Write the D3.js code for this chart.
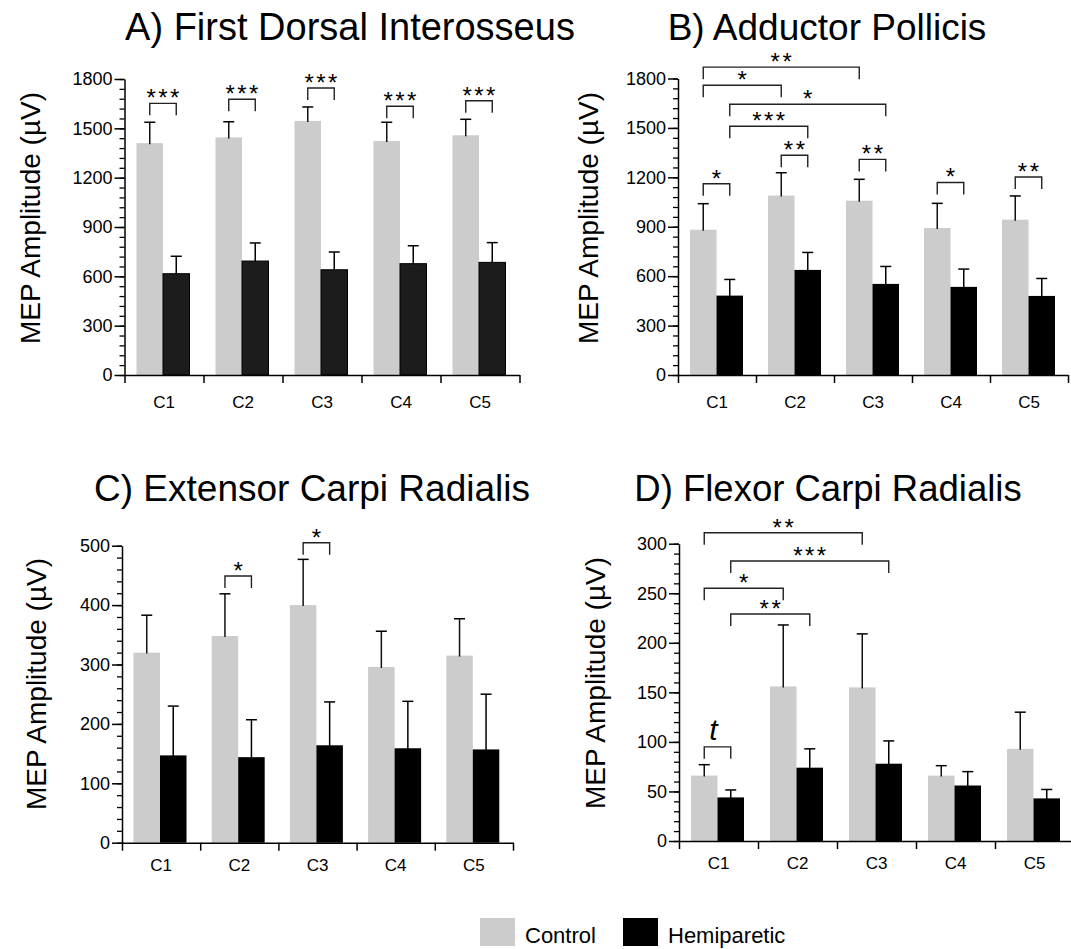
<!DOCTYPE html>
<html>
<head>
<meta charset="utf-8">
<script src="https://cdn.jsdelivr.net/npm/d3@7"></script>
<style>
  body { margin: 0; background: #fff; }
  svg { display: block; font-family: "Liberation Sans", Arial, Helvetica, sans-serif; }
</style>
</head>
<body>
<svg width="1071" height="949"></svg>
<script>
// categories + series
const categories = ["C1", "C2", "C3", "C4", "C5"];
const seriesNames = ["Control", "Hemiparetic"];
const seriesColors = ["#cccccc", "#000000"];

// A) First Dorsal Interosseus
const fdiControl = [1410, 1445, 1545, 1423, 1458];
const fdiControlErr = [127, 95, 85, 114, 97];
const fdiHemi = [616, 693, 640, 677, 685];
const fdiHemiErr = [106, 110, 108, 109, 120];
const fdiTicks = [0, 300, 600, 900, 1200, 1500, 1800];
// [cat, series, cat, series, height (µV), label]
const fdiSig = [
  ["C1", 0, "C1", 1, 1652, "***"],
  ["C2", 0, "C2", 1, 1677, "***"],
  ["C3", 0, "C3", 1, 1745, "***"],
  ["C4", 0, "C4", 1, 1634, "***"],
  ["C5", 0, "C5", 1, 1668, "***"]
];

// B) Adductor Pollicis
const apControl = [882, 1089, 1058, 892, 943];
const apControlErr = [158, 139, 130, 150, 144];
const apHemi = [482, 638, 553, 535, 480];
const apHemiErr = [98, 106, 106, 108, 106];
const apTicks = [0, 300, 600, 900, 1200, 1500, 1800];
const apSig = [
  ["C1", 0, "C3", 0, 1869, "**"],
  ["C1", 0, "C2", 0, 1759, "*"],
  ["C1", 1, "C3", 1, 1644, "*"],
  ["C1", 1, "C2", 1, 1510, "***"],
  ["C1", 0, "C1", 1, 1161, "*"],
  ["C2", 0, "C2", 1, 1334, "**"],
  ["C3", 0, "C3", 1, 1309, "**"],
  ["C4", 0, "C4", 1, 1169, "*"],
  ["C5", 0, "C5", 1, 1202, "**"]
];

// C) Extensor Carpi Radialis
const ecrControl = [320, 348, 400, 296, 315];
const ecrControlErr = [63, 71, 77, 60, 62];
const ecrHemi = [147, 144, 164, 159, 157];
const ecrHemiErr = [83, 63, 73, 79, 93];
const ecrTicks = [0, 100, 200, 300, 400, 500];
const ecrSig = [
  ["C2", 0, "C2", 1, 449, "*"],
  ["C3", 0, "C3", 1, 505, "*"]
];

// D) Flexor Carpi Radialis
const fcrControl = [66, 156, 155, 66, 93];
const fcrControlErr = [11, 62, 54, 10, 37];
const fcrHemi = [44, 74, 78, 56, 43];
const fcrHemiErr = [7.5, 19, 23, 14, 9];
const fcrTicks = [0, 50, 100, 150, 200, 250, 300];
const fcrSig = [
  ["C1", 0, "C3", 0, 311, "**"],
  ["C1", 1, "C3", 1, 282.5, "***"],
  ["C1", 0, "C2", 0, 255, "*"],
  ["C1", 1, "C2", 1, 229, "**"],
  ["C1", 0, "C1", 1, 95, "t"]
];

const svg = d3.select("svg");

function drawPanel(p) {
  const g = svg.append("g");
  const max = p.ticks[p.ticks.length - 1];
  const y = d3.scaleLinear().domain([0, max]).range([p.y0, p.yTop]);
  const x = d3.scaleBand().domain(categories).range([p.x0, p.x0 + 5 * p.bw]);
  const sub = d3.scaleBand().domain([0, 1]).range([p.pad, p.pad + 53]);
  const cx = (c, s) => x(c) + sub(s) + sub.bandwidth() / 2;

  // title
  g.append("text")
    .attr("x", p.titleX).attr("y", p.titleY)
    .attr("text-anchor", "middle")
    .style("font-size", p.titleSize + "px")
    .text(p.title);

  // y label
  g.append("text")
    .attr("transform", `translate(${p.labelX},${p.labelY}) rotate(-90)`)
    .attr("text-anchor", "middle")
    .style("font-size", "28px")
    .text("MEP Amplitude (\u00b5V)");

  // bars
  const vals = [p.control, p.hemi];
  const errs = [p.controlErr, p.hemiErr];
  [0, 1].forEach(s => {
    g.selectAll(".bar" + s)
      .data(categories)
      .enter().append("rect")
      .attr("x", c => x(c) + sub(s))
      .attr("width", sub.bandwidth())
      .attr("y", (c, i) => y(vals[s][i]))
      .attr("height", (c, i) => p.y0 - y(vals[s][i]))
      .attr("fill", s === 0 ? seriesColors[0] : p.hemiFill)
      .attr("stroke", s === 1 && p.hemiFill !== "#000000" ? "#000" : "none")
      .attr("stroke-width", 1);

    // error bars (upper only)
    const eb = g.selectAll(".err" + s)
      .data(categories)
      .enter().append("g");
    eb.append("line")
      .attr("x1", c => cx(c, s)).attr("x2", c => cx(c, s))
      .attr("y1", (c, i) => y(vals[s][i]) + 1)
      .attr("y2", (c, i) => y(vals[s][i] + errs[s][i]))
      .attr("stroke", s === 0 ? "#111" : "#000").attr("stroke-width", 1.5);
    eb.append("line")
      .attr("x1", c => cx(c, s) - 5.5).attr("x2", c => cx(c, s) + 5.5)
      .attr("y1", (c, i) => y(vals[s][i] + errs[s][i]))
      .attr("y2", (c, i) => y(vals[s][i] + errs[s][i]))
      .attr("stroke", "#000").attr("stroke-width", 1.5);
  });

  // y axis: minor then major
  const minor = d3.range(0, max + 1e-9, p.minor);
  g.append("g")
    .attr("transform", `translate(${p.x0},0)`)
    .call(d3.axisLeft(y).tickValues(minor).tickSize(5).tickFormat(""))
    .call(a => a.select(".domain").remove())
    .call(a => a.selectAll("line").attr("stroke-width", 1.3));
  g.append("g")
    .attr("transform", `translate(${p.x0},0)`)
    .call(d3.axisLeft(y).tickValues(p.ticks).tickFormat(d3.format("d"))
      .tickSize(10).tickSizeOuter(0).tickPadding(2))
    .call(a => a.selectAll("line").attr("stroke-width", 1.5))
    .call(a => a.select(".domain").attr("stroke-width", 1.5))
    .call(a => a.selectAll("text").style("font-size", "18px").attr("fill", "#000")
      .style("font-family", "'Liberation Sans', Arial, sans-serif"));

  // x axis with ticks at band boundaries
  const xb = d3.scaleLinear().domain([0, 5]).range([p.x0, p.x0 + 5 * p.bw]);
  g.append("g")
    .attr("transform", `translate(0,${p.y0})`)
    .call(d3.axisBottom(xb).ticks(5).tickFormat("").tickSize(8).tickSizeOuter(0))
    .call(a => a.selectAll("line").attr("stroke-width", 1.5))
    .call(a => a.select(".domain").attr("stroke-width", 1.5));
  g.append("g")
    .attr("transform", `translate(0,${p.y0})`)
    .call(d3.axisBottom(x).tickSize(0).tickPadding(0))
    .call(a => a.select(".domain").remove())
    .call(a => a.selectAll("text")
      .attr("dy", null).attr("y", p.labelOff)
      .style("font-size", "17px").attr("fill", "#000")
      .style("font-family", "'Liberation Sans', Arial, sans-serif"));

  // significance brackets
  p.sig.forEach(([c1, s1, c2, s2, h, lab]) => {
    const x1 = cx(c1, s1), x2 = cx(c2, s2), yt = y(h);
    g.append("path")
      .attr("d", `M${x1},${yt + 12}V${yt}H${x2}V${yt + 12}`)
      .attr("fill", "none").attr("stroke", "#222").attr("stroke-width", 1.4);
    if (lab === "t") {
      g.append("text")
        .attr("x", (x1 + x2) / 2 - 4).attr("y", yt - 7)
        .attr("text-anchor", "middle")
        .style("font-size", "30px").style("font-style", "italic")
        .text(lab);
    } else {
      g.append("text")
        .attr("x", (x1 + x2) / 2 + 1.2).attr("y", yt + 3)
        .attr("text-anchor", "middle")
        .style("font-size", "24px").style("letter-spacing", "2.5px")
        .text(lab);
    }
  });
}

drawPanel({
  title: "A) First Dorsal Interosseus", titleX: 350, titleY: 40, titleSize: 38,
  labelX: 40, labelY: 218,
  control: fdiControl, controlErr: fdiControlErr, hemi: fdiHemi, hemiErr: fdiHemiErr,
  ticks: fdiTicks, minor: 60, sig: fdiSig, hemiFill: "#1c1c1c",
  x0: 124.5, y0: 375, yTop: 79, bw: 79, pad: 12, labelOff: 33
});
drawPanel({
  title: "B) Adductor Pollicis", titleX: 827, titleY: 40, titleSize: 37,
  labelX: 598, labelY: 218,
  control: apControl, controlErr: apControlErr, hemi: apHemi, hemiErr: apHemiErr,
  ticks: apTicks, minor: 60, sig: apSig, hemiFill: "#000000",
  x0: 678, y0: 375, yTop: 78.5, bw: 78, pad: 12, labelOff: 33
});
drawPanel({
  title: "C) Extensor Carpi Radialis", titleX: 312, titleY: 501, titleSize: 37,
  labelX: 46, labelY: 684,
  control: ecrControl, controlErr: ecrControlErr, hemi: ecrHemi, hemiErr: ecrHemiErr,
  ticks: ecrTicks, minor: 20, sig: ecrSig, hemiFill: "#000000",
  x0: 122, y0: 842.7, yTop: 545.7, bw: 78.2, pad: 11.5, labelOff: 28
});
drawPanel({
  title: "D) Flexor Carpi Radialis", titleX: 828, titleY: 501, titleSize: 36.5,
  labelX: 605, labelY: 683,
  control: fcrControl, controlErr: fcrControlErr, hemi: fcrHemi, hemiErr: fcrHemiErr,
  ticks: fcrTicks, minor: 10, sig: fcrSig, hemiFill: "#000000",
  x0: 679, y0: 841, yTop: 543.7, bw: 79, pad: 12, labelOff: 28
});

// legend
const legend = svg.append("g");
const legX = [480, 623];
seriesNames.forEach((name, i) => {
  legend.append("rect")
    .attr("x", legX[i]).attr("y", 918).attr("width", 35).attr("height", 28)
    .attr("fill", seriesColors[i]);
  legend.append("text")
    .attr("x", legX[i] + 45).attr("y", 943)
    .style("font-size", "22px")
    .text(name);
});
</script>
</body>
</html>
